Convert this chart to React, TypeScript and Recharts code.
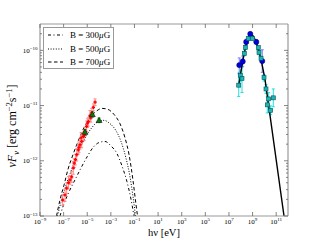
import React from "react";
import { ComposedChart, Line, Scatter, XAxis, YAxis, ErrorBar } from "recharts";

// synchrotron model curves: h nu [eV] vs nuF_nu [erg cm^-2 s^-1]
const b300X = [4.9e-8, 1.07e-7, 2.9e-7, 9.1e-7, 2.95e-6, 9.5e-6, 3.1e-5, 1.0e-4, 3.2e-4, 1.02e-3, 3.3e-3, 8.7e-3, 0.023, 0.051, 0.091];
const b300Y = [1e-13, 1.66e-13, 2.75e-13, 4.5e-13, 7.4e-13, 1.17e-12, 1.74e-12, 2.14e-12, 2.24e-12, 1.86e-12, 1.35e-12, 8.1e-13, 4.2e-13, 2.0e-13, 1e-13];
const b500X = [3.0e-8, 6.0e-8, 1.32e-7, 3.5e-7, 9.1e-7, 2.45e-6, 7.9e-6, 2.5e-5, 8.1e-5, 2.6e-4, 8.5e-4, 2.75e-3, 7.2e-3, 0.019, 0.042, 0.074, 0.123];
const b500Y = [1e-13, 1.78e-13, 3.2e-13, 5.8e-13, 1.0e-12, 1.66e-12, 2.75e-12, 4.0e-12, 5.1e-12, 5.4e-12, 4.7e-12, 3.5e-12, 2.24e-12, 1.12e-12, 5.1e-13, 2.3e-13, 1e-13];
const b700X = [2.5e-8, 4.9e-8, 1.07e-7, 2.3e-7, 6.2e-7, 1.66e-6, 5.4e-6, 1.7e-5, 5.5e-5, 1.78e-4, 5.8e-4, 1.86e-3, 5.9e-3, 0.0158, 0.0347, 0.074, 0.135, 0.182];
const b700Y = [1e-13, 1.95e-13, 3.6e-13, 6.9e-13, 1.29e-12, 2.24e-12, 4.0e-12, 6.0e-12, 7.8e-12, 8.9e-12, 8.5e-12, 6.9e-12, 4.7e-12, 2.6e-12, 1.29e-12, 4.5e-13, 1.6e-13, 1e-13];

// radio / optical points (red) with y error factor
const redX = [8.3e-8, 1.32e-7, 1.8e-7, 2.6e-7, 3.5e-7, 4.8e-7, 6.6e-7, 7.9e-7, 1.0e-6, 1.29e-6, 1.74e-6, 2.0e-6, 2.45e-6, 3.0e-6, 3.4e-6, 4.7e-6, 5.5e-6, 6.5e-6, 8.9e-6, 1.05e-5, 1.23e-5, 1.7e-5, 2.0e-5, 2.4e-5, 3.3e-5, 4.6e-5];
const redY = [1.95e-13, 2.4e-13, 3.2e-13, 4.0e-13, 4.5e-13, 5.1e-13, 7.4e-13, 9.1e-13, 1.05e-12, 1.29e-12, 1.58e-12, 1.75e-12, 1.95e-12, 2.6e-12, 2.24e-12, 2.75e-12, 2.9e-12, 3.4e-12, 4.2e-12, 4.8e-12, 5.1e-12, 6.5e-12, 6.0e-12, 7.4e-12, 9.3e-12, 1.15e-11];
const redErr = [1.25, 1.3, 1.25, 1.3, 1.2, 1.25, 1.3, 1.2, 1.25, 1.3, 1.2, 1.25, 1.2, 1.25, 1.3, 1.2, 1.25, 1.2, 1.25, 1.2, 1.2, 1.25, 1.2, 1.2, 1.15, 1.15];
const redXErr = 1.2;

const greenX = [6.4e-6, 2.7e-5, 1.0e-4];
const greenY = [3.3e-12, 6.9e-12, 5.4e-12];
const greenErr = [1.12, 1.12, 1.1];

// gamma-ray points
const blueX = [7.5e7, 1.46e8, 2.9e8, 6.4e8, 2.07e9, 6.6e9];
const blueY = [5.4e-11, 6.3e-11, 1.42e-10, 1.98e-10, 1.42e-10, 6.4e-11];
const blueErr = [1.35, 1.25, 1.12, 1.08, 1.1, 1.6];

const cyanX = [6.7e7, 9.1e7, 1.27e8, 2.0e8, 2.5e8, 4.3e8, 1.02e9, 3.05e9, 3.5e9, 5.2e9, 9.3e9, 1.37e10, 1.77e10, 2.3e10, 3.4e10, 5.7e10];
const cyanY = [2.34e-11, 3.5e-11, 3.1e-11, 8.8e-11, 1.13e-10, 1.63e-10, 1.63e-10, 1.12e-10, 9.1e-11, 7.2e-11, 3.2e-11, 2.0e-11, 1.03e-11, 1.32e-11, 8.2e-12, 1.38e-11];
const cyanErr = [1.6, 1.3, 1.8, 1.1, 1.08, 1.06, 1.06, 1.08, 1.1, 1.1, 1.15, 1.2, 1.4, 1.3, 1.2, 1.45];

const blackX = [6.4e7, 1.05e8, 1.7e8, 2.77e8, 4.5e8, 6.7e8, 1.09e9, 1.95e9, 3.5e9, 6.3e9, 1.13e10, 4.6e11];
const blackY = [2.2e-11, 4.15e-11, 7.5e-11, 1.23e-10, 1.72e-10, 1.95e-10, 1.84e-10, 1.46e-10, 9.6e-11, 5.6e-11, 2.97e-11, 1e-13];

const legendFields = ["300", "500", "700"];
const legendDash = ["3 2.5 1 2.5", "1 1.6", "3.5 2.5"];

const xTicks = [1e-9, 1e-7, 1e-5, 1e-3, 1e-1, 1e1, 1e3, 1e5, 1e7, 1e9, 1e11];
const yDecades = [1e-13, 1e-12, 1e-11, 1e-10];
const yTicks: number[] = [];
yDecades.forEach((d) => {
  for (let m = 1; m <= 9; m++) if (m * d < 2.9e-10) yTicks.push(m * d);
});

const FONT = "'Liberation Serif', serif";
const AX = "#999";

const zip = (xs: number[], ys: number[]) => xs.map((x, i) => ({ x, y: ys[i] }));
const withErr = (xs: number[], ys: number[], f: number[], fx?: number) =>
  xs.map((x, i) => ({
    x,
    y: ys[i],
    ey: [ys[i] - ys[i] / f[i], ys[i] * f[i] - ys[i]],
    ex: fx ? [x - x / fx, x * fx - x] : [0, 0],
  }));

const redData = withErr(redX, redY, redErr, redXErr);
const greenData = withErr(greenX, greenY, greenErr);
const blueData = withErr(blueX, blueY, blueErr);
const cyanData = withErr(cyanX, cyanY, cyanErr);

function expLabel(v: number) {
  const e = Math.round(Math.log10(v));
  return e < 0 ? "\u2212" + -e : String(e);
}
function isMajor(v: number) {
  const l = Math.log10(v);
  return Math.abs(l - Math.round(l)) < 1e-6;
}

function YTick(p: any) {
  const { x, y, payload, side } = p;
  const v = payload.value;
  const len = isMajor(v) ? 4 : 2;
  const dir = side === "right" ? -1 : 1;
  return (
    <g>
      <line x1={x} y1={y} x2={x + dir * len} y2={y} stroke="#666" strokeWidth={0.8} />
      {side === "left" && isMajor(v) && (
        <text x={x - 2.5} y={y + 2.4} textAnchor="end" fontFamily={FONT} fontSize={7} fill="#000">
          10<tspan dy={-2.8} fontSize={5}>{expLabel(v)}</tspan>
        </text>
      )}
    </g>
  );
}

function XTick(p: any) {
  const { x, y, payload, side } = p;
  const dir = side === "top" ? 1 : -1;
  return (
    <g>
      <line x1={x} y1={y} x2={x} y2={y + dir * 4} stroke="#666" strokeWidth={0.8} />
      {side === "bottom" && (
        <text x={x} y={y + 7.5} textAnchor="middle" fontFamily={FONT} fontSize={7} fill="#000">
          10<tspan dy={-2.8} fontSize={5}>{expLabel(payload.value)}</tspan>
        </text>
      )}
    </g>
  );
}

const redShape = (p: any) => (
  <path d={`M${p.cx - 1.6},${p.cy}h3.2M${p.cx},${p.cy - 1.6}v3.2`} stroke="#ff0000" strokeWidth={1.3} />
);
const greenShape = (p: any) => (
  <polygon
    points={`${p.cx},${p.cy - 3} ${p.cx - 3},${p.cy + 2.2} ${p.cx + 3},${p.cy + 2.2}`}
    fill="#0a7a0a"
    stroke="#000"
    strokeWidth={0.5}
  />
);
const blueShape = (p: any) => <circle cx={p.cx} cy={p.cy} r={2.6} fill="#0000dd" stroke="#000066" strokeWidth={0.5} />;
const cyanShape = (p: any) => (
  <rect x={p.cx - 2} y={p.cy - 2} width={4} height={4} fill="#1fb3b3" stroke="#005555" strokeWidth={0.6} />
);

export default function App() {
  const axisLine = { stroke: AX, strokeWidth: 1.2 };
  return (
    <div style={{ position: "absolute", left: 0, top: 0, width: 320, height: 240, background: "#fff" }}>
      <ComposedChart width={320} height={240} margin={{ top: 0, right: 0, bottom: 0, left: 0 }}>
        <XAxis
          xAxisId="b" dataKey="x" type="number" scale="log" domain={[1e-9, 1e12]} allowDataOverflow
          ticks={xTicks} interval={0} height={24} tickSize={0} tickMargin={0} tickLine={false}
          axisLine={axisLine} tick={(p: any) => <XTick {...p} side="bottom" />}
        />
        <XAxis
          xAxisId="t" orientation="top" dataKey="x" type="number" scale="log" domain={[1e-9, 1e12]} allowDataOverflow
          ticks={xTicks} interval={0} height={24} tickSize={0} tickMargin={0} tickLine={false}
          axisLine={axisLine} tick={(p: any) => <XTick {...p} side="top" />}
        />
        <YAxis
          yAxisId="l" dataKey="y" type="number" scale="log" domain={[1e-13, 3e-10]} allowDataOverflow
          ticks={yTicks} interval={0} width={40} tickSize={0} tickMargin={0} tickLine={false}
          axisLine={axisLine} tick={(p: any) => <YTick {...p} side="left" />}
        />
        <YAxis
          yAxisId="r" orientation="right" dataKey="y" type="number" scale="log" domain={[1e-13, 3e-10]} allowDataOverflow
          ticks={yTicks} interval={0} width={32} tickSize={0} tickMargin={0} tickLine={false}
          axisLine={axisLine} tick={(p: any) => <YTick {...p} side="right" />}
        />

        <Line xAxisId="b" yAxisId="l" data={zip(b300X, b300Y)} dataKey="y" type="monotone" stroke="#000"
          strokeWidth={1} strokeDasharray={legendDash[0]} dot={false} isAnimationActive={false} />
        <Line xAxisId="b" yAxisId="l" data={zip(b500X, b500Y)} dataKey="y" type="monotone" stroke="#000"
          strokeWidth={1} strokeDasharray={legendDash[1]} dot={false} isAnimationActive={false} />
        <Line xAxisId="b" yAxisId="l" data={zip(b700X, b700Y)} dataKey="y" type="monotone" stroke="#000"
          strokeWidth={1} strokeDasharray={legendDash[2]} dot={false} isAnimationActive={false} />

        <Scatter xAxisId="b" yAxisId="l" data={redData} shape={redShape} isAnimationActive={false}>
          <ErrorBar dataKey="ey" direction="y" width={1.5} stroke="#ff8a8a" strokeWidth={1} />
          <ErrorBar dataKey="ex" direction="x" width={1.5} stroke="#ff8a8a" strokeWidth={1} />
        </Scatter>
        <Scatter xAxisId="b" yAxisId="l" data={greenData} shape={greenShape} isAnimationActive={false}>
          <ErrorBar dataKey="ey" direction="y" width={1.5} stroke="#0a7a0a" strokeWidth={0.8} />
        </Scatter>
        <Scatter xAxisId="b" yAxisId="l" data={blueData} shape={blueShape} isAnimationActive={false}>
          <ErrorBar dataKey="ey" direction="y" width={1.5} stroke="#7a7aff" strokeWidth={1} />
        </Scatter>
        <Scatter xAxisId="b" yAxisId="l" data={cyanData} shape={cyanShape} isAnimationActive={false}>
          <ErrorBar dataKey="ey" direction="y" width={1.5} stroke="#22e0e0" strokeWidth={1} />
        </Scatter>
        <Line xAxisId="b" yAxisId="l" data={zip(blackX, blackY)} dataKey="y" type="linear" stroke="#000"
          strokeWidth={1.4} dot={false} isAnimationActive={false} />
      </ComposedChart>

      <svg width={320} height={240} style={{ position: "absolute", left: 0, top: 0, pointerEvents: "none" }}>
        <text x={16} y={126} transform="rotate(-90 16 126)" textAnchor="middle" fontFamily={FONT} fontSize={12} fill="#000">
          <tspan fontStyle="italic">νF</tspan>
          <tspan fontSize={8.5} dy={2.5} fontStyle="italic">ν</tspan>
          <tspan dy={-2.5}>{" [erg cm"}</tspan>
          <tspan fontSize={8.5} dy={-4.5}>{"\u22122"}</tspan>
          <tspan dy={4.5}>s</tspan>
          <tspan fontSize={8.5} dy={-4.5}>{"\u22121"}</tspan>
          <tspan dy={4.5}>]</tspan>
        </text>
        <text x={164} y={235.5} textAnchor="middle" fontFamily={FONT} fontSize={10.5} fill="#000">
          hν [eV]
        </text>
      </svg>

      <div
        style={{
          position: "absolute", left: 43, top: 27, width: 71, height: 42, border: `1px solid ${AX}`,
          background: "#fff", boxSizing: "border-box", fontFamily: FONT, fontSize: 9, color: "#000",
        }}
      >
        {legendFields.map((f, i) => (
          <div key={f} style={{ position: "absolute", left: 0, top: 1 + i * 13.5, height: 12, display: "flex", alignItems: "center" }}>
            <svg width={26} height={12}>
              <line x1={4} y1={6} x2={19} y2={6} stroke="#000" strokeWidth={1} strokeDasharray={legendDash[i]} />
            </svg>
            <span style={{ whiteSpace: "nowrap" }}>
              B = {f}<i>μ</i>G
            </span>
          </div>
        ))}
      </div>
    </div>
  );
}
